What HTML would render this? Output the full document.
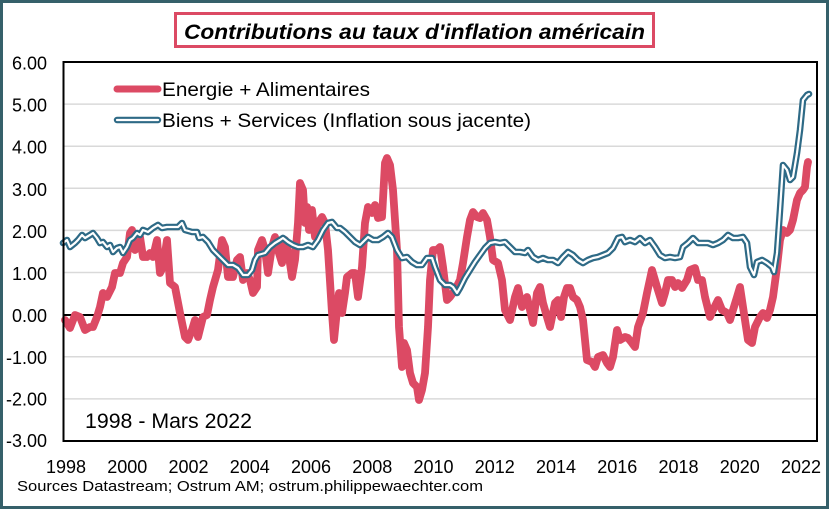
<!DOCTYPE html>
<html><head><meta charset="utf-8"><style>
html,body{margin:0;padding:0;background:#fff;}
svg{display:block;}
text{font-family:"Liberation Sans",Arial,sans-serif;fill:#000;}
</style></head><body>
<svg width="829" height="509" viewBox="0 0 829 509" xmlns="http://www.w3.org/2000/svg">
<defs>
<polyline id="bl" points="63,243 67,240 70,247 75,243 78,240 82,235 85,238 90,235 93,233 97,238 100,243 103,242 107,247 110,245 113,252 117,248 120,247 123,253 127,247 130,240 133,238 137,233 140,235 143,230 148,232 153,228 158,225 162,228 167,227 173,227 178,227 182,223 185,230 192,232 197,232 199,238 203,237 208,242 213,250 218,255 223,260 228,265 233,265 238,268 243,275 248,275 252,270 255,260 258,255 265,253 270,247 275,243 280,240 283,238 288,242 293,245 298,247 303,247 308,245 313,247 318,240 323,230 328,223 332,222 337,228 340,228 345,232 350,237 355,242 360,245 365,240 368,237 373,240 378,240 383,237 388,233 392,237 397,250 402,258 407,257 412,262 417,265 422,265 427,258 432,258 435,267 440,280 445,285 450,285 453,287 457,293 460,288 465,278 470,270 475,262 480,255 485,248 490,243 495,242 500,243 505,242 510,247 515,252 520,252 525,253 528,250 533,257 538,260 543,258 548,260 553,260 558,263 563,257 568,252 573,255 578,260 583,263 588,260 593,258 598,257 603,255 608,253 613,248 618,238 622,237 625,242 630,240 635,242 640,238 645,243 650,240 655,247 660,255 665,258 670,257 675,258 680,257 683,247 688,243 693,238 698,243 703,243 708,243 713,245 718,243 723,240 728,235 733,238 738,238 743,237 747,243 750,267 754,275 757,262 762,260 767,263 772,267 774,272 777,253 780,210 783,165 787,170 790,180 793,177 797,153 800,130 803,100 807,95 809,94"/>
</defs>
<rect x="0" y="0" width="829" height="509" fill="#fff"/>
<rect x="1.5" y="1.5" width="826" height="506" fill="none" stroke="#35606a" stroke-width="3"/>
<!-- title -->
<rect x="175.5" y="13.5" width="478" height="33" fill="#fff" stroke="#dc4a64" stroke-width="3"/>
<text x="184" y="39" font-size="21" font-weight="bold" font-style="italic" textLength="461" lengthAdjust="spacingAndGlyphs">Contributions au taux d'inflation américain</text>
<!-- gridlines -->
<g stroke="#d9d9d9" stroke-width="1.5">
<line x1="64" y1="104.1" x2="816" y2="104.1"/>
<line x1="64" y1="146.2" x2="816" y2="146.2"/>
<line x1="64" y1="188.3" x2="816" y2="188.3"/>
<line x1="64" y1="230.4" x2="816" y2="230.4"/>
<line x1="64" y1="272.5" x2="816" y2="272.5"/>
<line x1="64" y1="356.8" x2="816" y2="356.8"/>
<line x1="64" y1="398.9" x2="816" y2="398.9"/>
</g>
<line x1="64" y1="315" x2="816" y2="315" stroke="#000" stroke-width="2"/>
<!-- y labels -->
<g font-size="18" text-anchor="end">
<text x="47" y="69.5">6.00</text>
<text x="47" y="111.6">5.00</text>
<text x="47" y="153.7">4.00</text>
<text x="47" y="195.8">3.00</text>
<text x="47" y="237.9">2.00</text>
<text x="47" y="280">1.00</text>
<text x="47" y="322">0.00</text>
<text x="47" y="364.1">-1.00</text>
<text x="47" y="405.5">-2.00</text>
<text x="47" y="447">-3.00</text>
</g>
<!-- x labels -->
<g font-size="18" text-anchor="middle">
<text x="66" y="473">1998</text>
<text x="127.25" y="473">2000</text>
<text x="188.5" y="473">2002</text>
<text x="249.75" y="473">2004</text>
<text x="311" y="473">2006</text>
<text x="372.25" y="473">2008</text>
<text x="433.5" y="473">2010</text>
<text x="494.75" y="473">2012</text>
<text x="556" y="473">2014</text>
<text x="617.25" y="473">2016</text>
<text x="678.5" y="473">2018</text>
<text x="739.75" y="473">2020</text>
<text x="801" y="473">2022</text>
</g>
<text x="17" y="491" font-size="15" textLength="466" lengthAdjust="spacingAndGlyphs">Sources Datastream;  Ostrum  AM; ostrum.philippewaechter.com</text>
<text x="85" y="428" font-size="21" textLength="167" lengthAdjust="spacingAndGlyphs">1998 - Mars 2022</text>
<!-- series -->
<polyline fill="none" stroke="#dc4a64" stroke-width="7.8" stroke-linejoin="round" stroke-linecap="round" points="65,320 70,328 75,315 80,317 85,330 90,327 93,327 97,317 100,307 103,293 107,297 112,287 115,273 120,273 123,263 127,257 130,233 132,230 135,250 140,237 143,257 147,257 150,253 153,257 157,240 160,273 163,267 167,240 170,283 175,287 180,313 185,337 188,340 192,330 195,320 198,337 203,317 207,315 210,300 213,287 218,270 222,240 225,247 228,277 233,277 237,260 240,257 243,280 247,273 250,280 253,293 257,287 258,250 262,240 265,250 268,273 272,247 275,237 278,250 282,263 285,240 288,250 292,277 295,260 298,223 300,183 303,190 305,223 307,207 309,230 312,210 315,237 318,223 322,217 325,223 328,250 332,313 334,340 337,310 339,293 342,313 345,293 347,277 352,273 355,273 358,297 362,267 365,223 368,207 372,213 375,205 378,218 382,217 385,163 387,158 390,165 393,190 397,250 399,327 402,367 404,343 407,350 410,373 413,383 417,387 419,400 422,390 425,373 428,327 430,280 433,250 437,250 440,247 443,267 447,300 450,297 455,290 460,280 463,263 467,237 470,220 473,212 477,217 480,218 483,213 487,220 490,237 493,260 498,263 502,280 505,310 510,320 515,297 518,288 522,307 527,297 530,310 533,323 537,293 540,287 543,303 547,317 550,327 555,303 558,300 561,317 564,297 567,288 570,288 573,297 577,300 580,307 583,320 587,360 592,362 595,367 598,357 603,355 607,363 610,367 613,357 617,330 620,340 625,337 628,338 632,343 635,347 638,327 643,313 647,293 652,270 657,287 662,303 665,293 668,280 672,280 675,287 678,283 682,288 687,280 690,270 695,268 698,280 702,280 705,297 710,317 713,310 718,300 722,310 727,313 730,320 733,310 737,297 740,287 743,307 748,340 752,343 755,327 760,317 763,313 767,318 770,310 773,297 777,267 780,240 783,230 787,233 790,230 793,220 797,200 800,193 803,190 805,187 807,167 808,162"/>
<g fill="none" stroke-linejoin="round" stroke-linecap="round">
<use href="#bl" stroke="#2e6a86" stroke-width="6.6"/>
<use href="#bl" stroke="#fff" stroke-width="2.2"/>
</g>
<!-- plot border -->
<rect x="63.5" y="62" width="753.5" height="379" fill="none" stroke="#000" stroke-width="2"/>
<!-- legend -->
<line x1="117" y1="89" x2="158" y2="89" stroke="#dc4a64" stroke-width="7" stroke-linecap="round"/>
<text x="162" y="96" font-size="19" textLength="208" lengthAdjust="spacingAndGlyphs">Energie + Alimentaires</text>
<line x1="117" y1="120" x2="158" y2="120" stroke="#2e6a86" stroke-width="6.4" stroke-linecap="round"/>
<line x1="117" y1="120" x2="158" y2="120" stroke="#fff" stroke-width="2.2" stroke-linecap="round"/>
<text x="162" y="127" font-size="19" textLength="369" lengthAdjust="spacingAndGlyphs">Biens + Services (Inflation sous jacente)</text>
</svg>
</body></html>
